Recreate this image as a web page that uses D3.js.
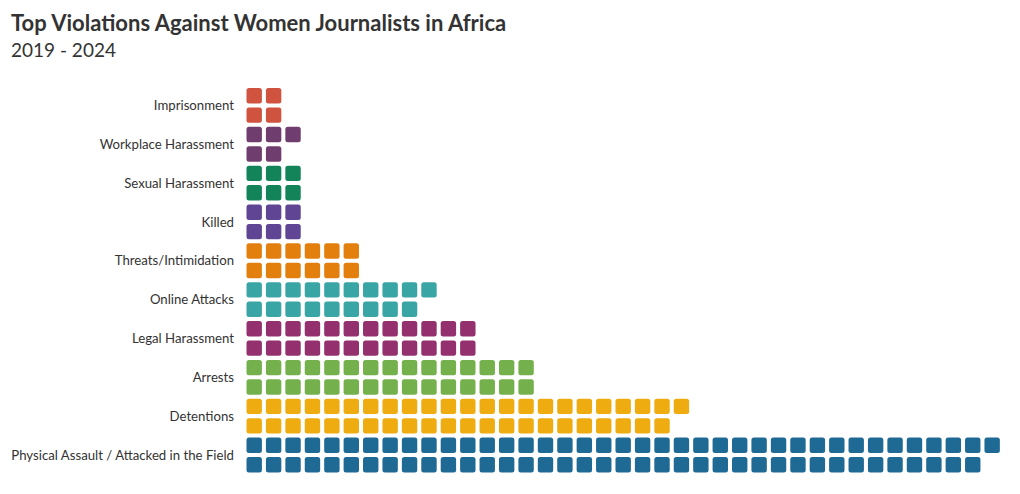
<!DOCTYPE html>
<html>
<head>
<meta charset="utf-8">
<script src="https://cdn.jsdelivr.net/npm/d3@7"></script>
<style>
  html, body { margin: 0; padding: 0; background: #fff; }
  svg { display: block; }
  text { font-family: Lato, "Open Sans", sans-serif; fill: #333; }
</style>
</head>
<body>
<svg id="chart" width="1020" height="494"></svg>
<script>
const categories = [
  "Imprisonment",
  "Workplace Harassment",
  "Sexual Harassment",
  "Killed",
  "Threats/Intimidation",
  "Online Attacks",
  "Legal Harassment",
  "Arrests",
  "Detentions",
  "Physical Assault / Attacked in the Field"
];
const counts = [4, 5, 6, 6, 12, 19, 24, 30, 45, 77];
const colors = ["#d0533f", "#6f3d6e", "#13835a", "#5f4594", "#e37f0d",
                "#3aa5a5", "#93306d", "#74b04b", "#efac10", "#1f6995"];
const titleText = "Top Violations Against Women Journalists in Africa";
const subtitleText = "2019 - 2024";

(function () {
  const rowsPerCat = 2;
  const cell = 19.42;
  const sq = 15.4;
  const gridLeft = 246.5, gridTop = 88;

  const svg = d3.select("#chart");

  svg.append("text").attr("x", 11).attr("y", 31)
    .attr("font-size", 22).attr("font-weight", 700).text(titleText);
  svg.append("text").attr("x", 11).attr("y", 57)
    .attr("font-size", 19).attr("font-weight", 400).text(subtitleText);

  const y = d3.scaleBand().domain(categories)
    .range([gridTop, gridTop + categories.length * rowsPerCat * cell]).padding(0);
  const maxCols = d3.max(counts, c => Math.ceil(c / rowsPerCat));
  const x = d3.scaleLinear().domain([0, maxCols]).range([gridLeft, gridLeft + maxCols * cell]);
  const color = d3.scaleOrdinal().domain(categories).range(colors);

  const cells = [];
  categories.forEach((c, i) => {
    for (let k = 0; k < counts[i]; k++) {
      cells.push({ cat: c, col: Math.floor(k / rowsPerCat), row: k % rowsPerCat });
    }
  });

  svg.append("g").selectAll("rect").data(cells).join("rect")
    .attr("x", d => x(d.col))
    .attr("y", d => y(d.cat) + d.row * cell)
    .attr("width", sq).attr("height", sq)
    .attr("rx", 2.5).attr("ry", 2.5)
    .attr("fill", d => color(d.cat));

  svg.append("g").selectAll("text").data(categories).join("text")
    .attr("x", 234)
    .attr("y", d => y(d) + (cell + sq) / 2)
    .attr("dy", "0.35em")
    .attr("text-anchor", "end")
    .attr("font-size", 13.2)
    .text(d => d);
})();
</script>
</body>
</html>
